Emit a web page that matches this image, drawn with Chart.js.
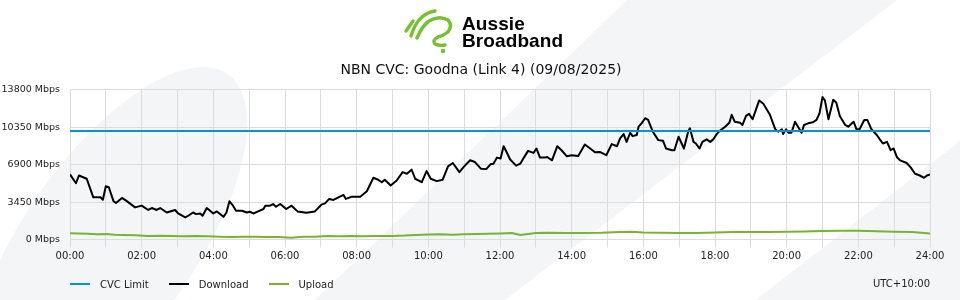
<!DOCTYPE html>
<html>
<head>
<meta charset="utf-8">
<title>NBN CVC: Goodna (Link 4)</title>
<script src="https://cdn.jsdelivr.net/npm/chart.js@4.4.1/dist/chart.umd.min.js"></script>
<style>
    html, body { margin: 0; padding: 0; background: #ffffff; }
    #wrap { position: relative; width: 960px; height: 300px; overflow: hidden; }
    #cvcChart { position: absolute; left: 0; top: 0; }
    #logo { position: absolute; left: 395px; top: 4px; width: 60px; height: 56px; }
    #brand {
        position: absolute; left: 462px; top: 15px;
        font-family: "Liberation Sans", Arial, sans-serif; font-weight: 700;
        font-size: 19px; line-height: 17px; color: #000; letter-spacing: 0.1px;
    }
    #legend {
        position: absolute; left: 70px; top: 277px; height: 14px;
        font-family: "DejaVu Sans", sans-serif; font-size: 10px; color: #222;
        display: flex; align-items: center;
    }
    #legend .item { display: flex; align-items: center; margin-right: 20px; }
    #legend .swatch { width: 20px; height: 2px; margin-right: 10px; }
</style>
</head>
<body>
<div id="wrap">
    <canvas id="cvcChart" width="960" height="300"></canvas>
    <svg id="logo" viewBox="0 0 60 56" width="60" height="56">
        <g fill="none" stroke="#76c12e" stroke-width="3.4" stroke-linecap="round" stroke-linejoin="round">
            <path d="M11 27 L18 17"/>
            <path d="M16 32 Q20 19 27 13 Q33 8 40 7"/>
            <path d="M22 34 Q27 22 34 17 Q44 11 53 16 Q58 21 53 28 Q48 32 43 33 Q37 36 40 40 Q44 42 50 41"/>
        </g>
        <circle cx="48" cy="47" r="2.3" fill="#76c12e"/>
    </svg>
    <div id="brand">Aussie<br>Broadband</div>
    <div id="legend"></div>
</div>
<script>
// tick labels
const chartTitle = 'NBN CVC: Goodna (Link 4) (09/08/2025)';
const xTickLabels = ['00:00', '02:00', '04:00', '06:00', '08:00', '10:00', '12:00',
    '14:00', '16:00', '18:00', '20:00', '22:00', '24:00'];
const yTickValues = [0, 3450, 6900, 10350, 13800];
const timezoneLabel = 'UTC+10:00';

// CVC limit (Mbps)
const cvcMinutes = [0, 1440];
const cvcMbps = [10000, 10000];

// download (minutes after midnight, Mbps)
const downloadMinutes = [
    0, 10, 15, 28, 39, 51, 55, 60, 65, 73,
    77, 87, 94, 109, 120, 131, 137, 145, 151, 162,
    176, 181, 193, 198, 206, 211, 218, 222, 229, 240,
    246, 257, 262, 267, 273, 278, 288, 296, 301, 307,
    315, 324, 327, 335, 340, 345, 352, 362, 371, 381,
    396, 410, 421, 427, 434, 441, 452, 458, 462, 472,
    486, 497, 508, 516, 522, 527, 537, 547, 557, 564,
    572, 578, 589, 597, 604, 614, 624, 633, 641, 652,
    660, 670, 678, 688, 697, 704, 709, 715, 721, 726,
    731, 737, 747, 754, 760, 767, 776, 781, 787, 795,
    799, 807, 816, 823, 832, 840, 851, 862, 871, 879,
    887, 898, 907, 916, 921, 927, 932, 938, 942, 949,
    952, 957, 963, 968, 976, 985, 993, 998, 1008, 1012,
    1019, 1028, 1035, 1038, 1044, 1048, 1054, 1059, 1066, 1072,
    1077, 1083, 1088, 1097, 1104, 1108, 1113, 1122, 1126, 1132,
    1137, 1143, 1154, 1161, 1172, 1181, 1186, 1192, 1194, 1199,
    1203, 1208, 1214, 1219, 1225, 1229, 1236, 1244, 1250, 1255,
    1260, 1264, 1270, 1278, 1283, 1289, 1298, 1303, 1312, 1317,
    1322, 1330, 1335, 1342, 1351, 1356, 1361, 1368, 1374, 1379,
    1385, 1390, 1401, 1408, 1415, 1423, 1430, 1435, 1440
];
const downloadMbps = [
    6000, 5190, 5900, 5600, 3890, 3890, 3670, 4910, 4820, 3520,
    3370, 3830, 3580, 2960, 3120, 2720, 2900, 2720, 2900, 2490,
    2720, 2400, 2030, 2190, 2490, 2340, 2400, 2190, 2900, 2400,
    2590, 2090, 2490, 3520, 3120, 2650, 2650, 2490, 2560, 2400,
    2590, 2810, 3120, 3120, 3270, 3020, 3270, 2810, 3120, 2590,
    2460, 2590, 3210, 3330, 3740, 3650, 3950, 4110, 3740, 3950,
    3950, 4450, 5690, 5510, 5280, 5510, 4980, 5440, 6210, 6060,
    6440, 5600, 5280, 6310, 5600, 5380, 5510, 6740, 7050, 6210,
    6740, 7300, 7140, 6530, 6490, 6930, 6990, 7550, 7460, 8600,
    8070, 7370, 6810, 6990, 7550, 8170, 7980, 8390, 7550, 7550,
    7610, 7300, 8600, 8230, 7670, 7770, 7700, 8760, 8390, 8040,
    8070, 7770, 8790, 8600, 9320, 9720, 9000, 9840, 9530, 9630,
    10400, 10710, 11180, 11020, 9930, 9160, 9100, 8390, 8230, 8230,
    9470, 8390, 9930, 10250, 9000, 8850, 8390, 9000, 9230, 9000,
    9230, 9720, 10030, 10400, 10770, 11490, 10860, 10770, 10560, 11390,
    11580, 11090, 12820, 12510, 11490, 10160, 9930, 10160, 9720, 10160,
    9840, 9840, 10860, 10400, 9840, 10560, 10710, 10810, 11020, 11640,
    13130, 12820, 11090, 12880, 12630, 11390, 10560, 10400, 10860, 10160,
    10160, 11020, 11020, 10160, 9630, 9230, 8850, 9000, 8230, 8390,
    7550, 7300, 7050, 6620, 6060, 5900, 5690, 5900, 5990
];

// upload (minutes after midnight, Mbps)
const uploadMinutes = [
    0, 15, 30, 45, 60, 75, 90, 110, 130, 150,
    170, 190, 210, 230, 250, 270, 290, 310, 330, 350,
    370, 390, 410, 430, 450, 470, 490, 510, 540, 560,
    580, 600, 620, 640, 660, 680, 700, 720, 740, 754,
    780, 800, 830, 860, 890, 920, 940, 960, 990, 1020,
    1050, 1080, 1110, 1140, 1170, 1200, 1230, 1260, 1290, 1320,
    1350, 1380, 1410, 1440
];
const uploadMbps = [
    580, 560, 520, 480, 500, 430, 420, 390, 330, 340,
    320, 300, 330, 290, 260, 230, 250, 250, 230, 220,
    170, 250, 260, 320, 300, 330, 300, 330, 330, 360,
    420, 460, 480, 440, 480, 500, 540, 560, 600, 420,
    600, 620, 600, 610, 620, 680, 720, 640, 620, 590,
    600, 640, 680, 700, 690, 710, 740, 780, 800, 800,
    760, 720, 700, 560
];

Chart.defaults.font.family = '"DejaVu Sans", sans-serif';
Chart.defaults.font.size = 10;
Chart.defaults.color = '#222';

function toPoints(xs, ys) {
    return xs.map((x, i) => ({ x: x, y: ys[i] }));
}

// faint background shapes behind the whole picture
const backdrop = {
    id: 'backdrop',
    beforeDraw(chart) {
        const ctx = chart.ctx;
        ctx.save();
        ctx.fillStyle = '#ffffff';
        ctx.fillRect(0, 0, chart.width, chart.height);
        ctx.fillStyle = '#f4f5f7';
        ctx.beginPath();
        ctx.ellipse(110, 242, 205, 86, -55 * Math.PI / 180, 0, Math.PI * 2);
        ctx.fill();
        ctx.beginPath();
        ctx.moveTo(627, 0);
        ctx.lineTo(897, 0);
        ctx.lineTo(505, 300);
        ctx.lineTo(315, 300);
        ctx.closePath();
        ctx.fill();
        ctx.beginPath();
        ctx.moveTo(960, 141);
        ctx.lineTo(960, 300);
        ctx.lineTo(756, 300);
        ctx.closePath();
        ctx.fill();
        ctx.restore();
    }
};

const gridColor = '#dcdcdc';

const chart = new Chart(document.getElementById('cvcChart'), {
    type: 'line',
    data: {
        datasets: [{
            label: 'CVC Limit',
            data: toPoints(cvcMinutes, cvcMbps),
            borderColor: '#0096d6',
            backgroundColor: '#0096d6',
            borderWidth: 2,
            pointRadius: 0
        }, {
            label: 'Download',
            data: toPoints(downloadMinutes, downloadMbps),
            borderColor: '#000000',
            backgroundColor: '#000000',
            borderWidth: 2,
            borderJoinStyle: 'round',
            pointRadius: 0
        }, {
            label: 'Upload',
            data: toPoints(uploadMinutes, uploadMbps),
            borderColor: '#74b72a',
            backgroundColor: '#74b72a',
            borderWidth: 2,
            borderJoinStyle: 'round',
            pointRadius: 0
        }]
    },
    options: {
        responsive: false,
        animation: false,
        events: [],
        layout: {
            padding: { top: 0, right: 0, bottom: 6, left: 2 }
        },
        plugins: {
            legend: { display: false },
            tooltip: { enabled: false },
            title: {
                display: true,
                text: chartTitle,
                color: '#111',
                font: { size: 14, weight: 'normal' },
                padding: { top: 62, bottom: 11 }
            }
        },
        scales: {
            x: {
                type: 'linear',
                min: 0,
                max: 1440,
                grid: { color: gridColor, tickLength: 8 },
                border: { color: gridColor },
                ticks: {
                    stepSize: 60,
                    maxTicksLimit: 25,
                    autoSkip: false,
                    maxRotation: 0,
                    padding: 3,
                    callback: function(value) {
                        return value % 120 === 0 ? xTickLabels[value / 120] : '';
                    }
                },
                title: {
                    display: true,
                    text: timezoneLabel,
                    align: 'end',
                    color: '#222',
                    font: { size: 10 },
                    padding: { top: 12.5, bottom: 4 }
                }
            },
            y: {
                min: yTickValues[0],
                max: yTickValues[yTickValues.length - 1],
                grid: { color: gridColor, drawTicks: false },
                border: { color: gridColor },
                ticks: {
                    stepSize: yTickValues[1] - yTickValues[0],
                    padding: 10,
                    font: { size: 9.5 },
                    callback: function(value) {
                        return value + ' Mbps';
                    }
                },
                afterFit: function(scale) {
                    scale.width = 68;
                }
            },
            // empty right-hand gutter so the title stays centred on the page
            gutter: {
                position: 'right',
                grid: { display: false },
                border: { display: false },
                ticks: { display: false },
                afterFit: function(scale) {
                    scale.width = 30;
                }
            }
        }
    },
    plugins: [backdrop]
});

// legend drawn as html along the bottom
const legend = document.getElementById('legend');
chart.data.datasets.forEach(ds => {
    const item = document.createElement('div');
    item.className = 'item';
    const swatch = document.createElement('span');
    swatch.className = 'swatch';
    swatch.style.background = ds.borderColor;
    const text = document.createElement('span');
    text.textContent = ds.label;
    item.appendChild(swatch);
    item.appendChild(text);
    legend.appendChild(item);
});
</script>
</body>
</html>
